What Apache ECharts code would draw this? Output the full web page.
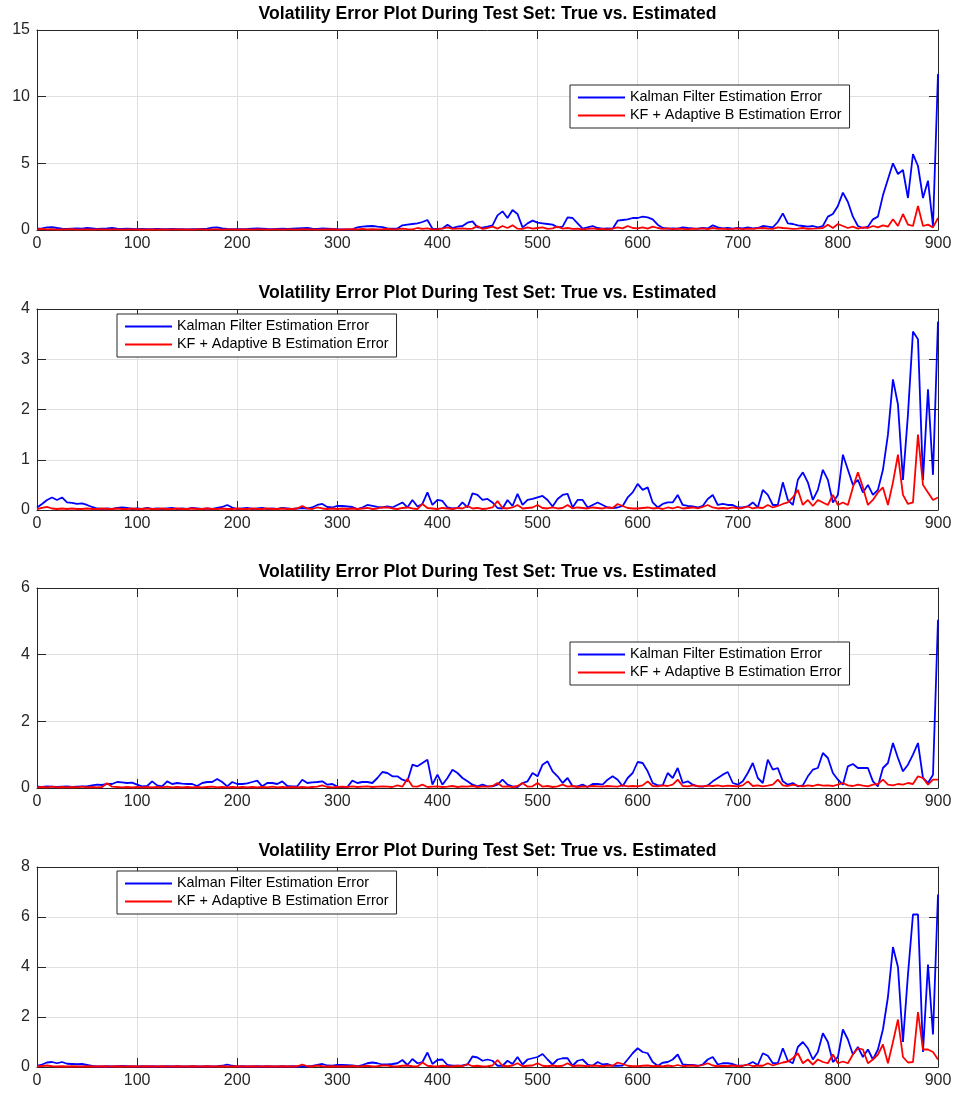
<!DOCTYPE html>
<html>
<head>
<meta charset="utf-8">
<script src="https://cdn.jsdelivr.net/npm/echarts@6/dist/echarts.min.js"></script>
<style>
html,body{margin:0;padding:0;background:#fff;}
#chart{width:956px;height:1094px;}
</style>
</head>
<body>
<div id="chart"></div>
<script>
// x positions: one sample every STEP time steps from 0 to 900
const STEP = 5;
const titleText = 'Volatility Error Plot During Test Set: True vs. Estimated';
const seriesNames = ['Kalman Filter Estimation Error', 'KF + Adaptive B Estimation Error'];
const xTicks = [0, 100, 200, 300, 400, 500, 600, 700, 800, 900];
const yMaxes = [15, 4, 6, 8];
const yIntervals = [5, 1, 2, 2];

// Panel 1
const b1 = [
0.10,0.12,0.20,0.22,0.15,0.10,0.08,0.10,0.12,0.10,0.15,0.12,0.08,0.10,0.12,0.16,0.10,0.08,0.10,0.08,
0.06,0.08,0.07,0.06,0.08,0.07,0.06,0.08,0.07,0.06,0.05,0.07,0.06,0.08,0.10,0.18,0.20,0.12,0.08,0.07,
0.06,0.07,0.08,0.10,0.12,0.10,0.08,0.07,0.09,0.10,0.08,0.10,0.12,0.14,0.15,0.10,0.08,0.12,0.10,0.08,
0.06,0.05,0.05,0.05,0.20,0.25,0.28,0.30,0.25,0.22,0.12,0.10,0.12,0.35,0.40,0.45,0.50,0.60,0.75,0.10,
0.08,0.12,0.40,0.15,0.25,0.30,0.55,0.65,0.20,0.18,0.25,0.35,1.10,1.40,0.90,1.50,1.20,0.20,0.50,0.70,
0.55,0.50,0.45,0.40,0.20,0.25,0.95,0.90,0.50,0.10,0.20,0.30,0.15,0.10,0.12,0.10,0.70,0.75,0.80,0.90,
0.90,1.00,0.95,0.80,0.40,0.15,0.10,0.12,0.10,0.20,0.15,0.12,0.10,0.15,0.12,0.35,0.20,0.12,0.15,0.10,
0.15,0.12,0.20,0.12,0.15,0.30,0.25,0.20,0.60,1.25,0.50,0.45,0.35,0.30,0.25,0.30,0.20,0.30,1.00,1.20,
1.80,2.80,2.10,1.00,0.30,0.15,0.25,0.80,1.00,2.60,3.80,5.00,4.20,4.50,2.40,5.70,4.80,2.40,3.70,0.30,
11.7];
const r1 = [
0.05,0.08,0.04,0.06,0.03,0.05,0.04,0.06,0.03,0.05,0.04,0.03,0.05,0.04,0.03,0.05,0.04,0.03,0.05,0.04,
0.03,0.04,0.03,0.05,0.03,0.04,0.03,0.05,0.04,0.03,0.04,0.03,0.05,0.04,0.03,0.05,0.04,0.03,0.05,0.04,
0.03,0.04,0.05,0.03,0.04,0.05,0.03,0.04,0.05,0.03,0.04,0.05,0.03,0.06,0.04,0.05,0.03,0.05,0.04,0.06,
0.03,0.05,0.04,0.06,0.05,0.08,0.05,0.07,0.05,0.06,0.08,0.05,0.06,0.10,0.07,0.05,0.15,0.08,0.12,0.05,
0.06,0.10,0.20,0.08,0.10,0.12,0.08,0.10,0.30,0.08,0.15,0.25,0.10,0.30,0.15,0.35,0.10,0.08,0.20,0.10,
0.15,0.20,0.08,0.12,0.25,0.10,0.15,0.08,0.10,0.05,0.08,0.12,0.06,0.08,0.05,0.10,0.20,0.12,0.30,0.15,
0.12,0.20,0.10,0.25,0.15,0.08,0.12,0.06,0.10,0.08,0.05,0.10,0.08,0.12,0.06,0.15,0.08,0.10,0.06,0.08,
0.12,0.06,0.10,0.08,0.12,0.15,0.10,0.08,0.20,0.15,0.12,0.08,0.10,0.15,0.08,0.10,0.12,0.15,0.40,0.15,
0.45,0.30,0.15,0.25,0.10,0.20,0.15,0.30,0.20,0.35,0.25,0.80,0.30,1.20,0.40,0.30,1.80,0.30,0.40,0.20,
0.9];

// Panel 2
const b2 = [
0.05,0.12,0.20,0.25,0.20,0.25,0.15,0.14,0.12,0.13,0.10,0.06,0.03,0.02,0.03,0.02,0.04,0.05,0.04,0.02,
0.03,0.02,0.04,0.02,0.03,0.02,0.03,0.04,0.02,0.03,0.02,0.04,0.03,0.02,0.03,0.02,0.04,0.06,0.10,0.05,
0.02,0.03,0.04,0.02,0.03,0.04,0.02,0.03,0.02,0.04,0.03,0.02,0.03,0.04,0.03,0.05,0.10,0.12,0.06,0.05,
0.08,0.08,0.07,0.06,0.02,0.05,0.10,0.08,0.06,0.05,0.07,0.05,0.10,0.15,0.05,0.20,0.07,0.12,0.35,0.10,
0.20,0.18,0.05,0.03,0.04,0.15,0.05,0.33,0.30,0.20,0.22,0.15,0.04,0.03,0.20,0.08,0.32,0.10,0.20,0.22,
0.25,0.28,0.20,0.07,0.22,0.30,0.32,0.05,0.20,0.20,0.05,0.10,0.15,0.10,0.05,0.04,0.05,0.08,0.25,0.35,
0.52,0.40,0.45,0.15,0.05,0.12,0.15,0.15,0.30,0.10,0.08,0.07,0.05,0.08,0.22,0.30,0.10,0.12,0.10,0.10,
0.05,0.05,0.07,0.15,0.05,0.40,0.30,0.10,0.10,0.55,0.20,0.10,0.60,0.75,0.55,0.20,0.40,0.80,0.60,0.15,
0.30,1.10,0.80,0.50,0.60,0.35,0.50,0.30,0.40,0.80,1.50,2.60,2.10,0.60,1.90,3.55,3.40,0.60,2.40,0.70,
3.75];
const r2 = [
0.02,0.04,0.06,0.03,0.02,0.03,0.02,0.03,0.02,0.02,0.03,0.02,0.02,0.03,0.02,0.02,0.03,0.02,0.02,0.03,
0.02,0.02,0.03,0.02,0.02,0.03,0.02,0.02,0.03,0.02,0.02,0.03,0.02,0.02,0.03,0.02,0.02,0.03,0.02,0.02,
0.03,0.02,0.02,0.03,0.02,0.02,0.03,0.02,0.02,0.03,0.02,0.02,0.03,0.08,0.03,0.02,0.05,0.03,0.02,0.03,
0.02,0.03,0.02,0.03,0.02,0.03,0.04,0.02,0.03,0.05,0.05,0.03,0.02,0.04,0.05,0.03,0.02,0.12,0.04,0.03,
0.02,0.04,0.03,0.02,0.04,0.03,0.08,0.03,0.04,0.02,0.03,0.05,0.18,0.04,0.03,0.05,0.10,0.03,0.04,0.05,
0.10,0.04,0.03,0.05,0.03,0.04,0.10,0.03,0.05,0.04,0.03,0.05,0.04,0.03,0.05,0.04,0.12,0.08,0.04,0.03,
0.03,0.04,0.05,0.03,0.04,0.02,0.05,0.03,0.06,0.03,0.04,0.05,0.03,0.06,0.10,0.05,0.03,0.04,0.03,0.05,
0.03,0.04,0.07,0.03,0.05,0.04,0.10,0.05,0.08,0.12,0.15,0.25,0.40,0.10,0.20,0.08,0.20,0.15,0.10,0.30,
0.10,0.15,0.10,0.45,0.75,0.45,0.10,0.20,0.35,0.45,0.10,0.55,1.10,0.30,0.12,0.15,1.50,0.50,0.35,0.20,
0.25];

// Panel 3
const b3 = [
0.04,0.03,0.05,0.04,0.03,0.04,0.05,0.03,0.04,0.05,0.05,0.08,0.10,0.09,0.12,0.12,0.18,0.17,0.15,0.16,
0.10,0.05,0.06,0.20,0.08,0.05,0.20,0.12,0.15,0.13,0.12,0.12,0.06,0.15,0.18,0.18,0.27,0.18,0.05,0.18,
0.12,0.12,0.14,0.18,0.22,0.05,0.15,0.15,0.12,0.20,0.06,0.05,0.05,0.25,0.15,0.17,0.18,0.20,0.10,0.12,
0.04,0.03,0.03,0.22,0.15,0.18,0.18,0.15,0.30,0.48,0.45,0.35,0.35,0.25,0.20,0.70,0.65,0.75,0.85,0.10,
0.40,0.10,0.30,0.55,0.45,0.30,0.20,0.10,0.05,0.10,0.05,0.05,0.10,0.25,0.10,0.05,0.03,0.15,0.20,0.45,
0.35,0.70,0.80,0.50,0.35,0.15,0.30,0.05,0.05,0.10,0.03,0.12,0.12,0.10,0.25,0.35,0.25,0.05,0.30,0.45,
0.78,0.75,0.50,0.15,0.08,0.08,0.45,0.30,0.60,0.15,0.20,0.10,0.05,0.04,0.08,0.20,0.30,0.40,0.48,0.15,
0.10,0.20,0.45,0.75,0.30,0.15,0.85,0.55,0.60,0.20,0.10,0.15,0.05,0.08,0.35,0.55,0.60,1.05,0.90,0.45,
0.25,0.10,0.65,0.72,0.60,0.60,0.60,0.20,0.05,0.60,0.75,1.35,0.90,0.50,0.70,1.00,1.35,0.30,0.15,0.40,
5.05];
const r3 = [
0.02,0.03,0.02,0.04,0.02,0.03,0.02,0.03,0.02,0.04,0.02,0.03,0.02,0.03,0.14,0.04,0.03,0.02,0.03,0.02,
0.03,0.02,0.03,0.02,0.03,0.02,0.04,0.02,0.03,0.02,0.03,0.02,0.03,0.02,0.03,0.04,0.02,0.03,0.02,0.03,
0.02,0.03,0.02,0.03,0.02,0.03,0.02,0.04,0.02,0.03,0.02,0.03,0.02,0.03,0.02,0.03,0.04,0.08,0.03,0.02,
0.03,0.04,0.03,0.05,0.03,0.04,0.05,0.03,0.04,0.05,0.04,0.03,0.08,0.04,0.28,0.05,0.04,0.10,0.03,0.04,
0.05,0.03,0.04,0.06,0.03,0.05,0.04,0.06,0.03,0.05,0.04,0.06,0.15,0.04,0.05,0.03,0.06,0.15,0.04,0.05,
0.15,0.04,0.06,0.03,0.05,0.10,0.04,0.06,0.03,0.05,0.04,0.06,0.05,0.04,0.06,0.05,0.04,0.08,0.05,0.06,
0.05,0.08,0.20,0.06,0.05,0.08,0.06,0.10,0.25,0.06,0.05,0.08,0.06,0.05,0.07,0.06,0.08,0.05,0.07,0.06,
0.05,0.08,0.20,0.06,0.08,0.05,0.07,0.10,0.25,0.08,0.06,0.10,0.07,0.05,0.08,0.06,0.10,0.07,0.08,0.06,
0.10,0.15,0.08,0.06,0.10,0.07,0.05,0.10,0.12,0.25,0.10,0.08,0.12,0.10,0.15,0.12,0.35,0.30,0.10,0.25,
0.25];

// Panel 4
const b4 = [
0.05,0.10,0.18,0.20,0.15,0.20,0.13,0.12,0.11,0.12,0.08,0.04,0.02,0.02,0.03,0.02,0.03,0.04,0.03,0.02,
0.02,0.03,0.02,0.03,0.02,0.02,0.03,0.02,0.03,0.02,0.02,0.03,0.02,0.02,0.03,0.02,0.03,0.05,0.10,0.05,
0.02,0.03,0.02,0.02,0.03,0.02,0.03,0.02,0.02,0.03,0.02,0.03,0.02,0.03,0.02,0.04,0.08,0.12,0.06,0.05,
0.08,0.08,0.07,0.06,0.03,0.08,0.15,0.18,0.15,0.10,0.10,0.12,0.15,0.28,0.08,0.32,0.15,0.20,0.58,0.12,
0.28,0.30,0.08,0.05,0.05,0.06,0.10,0.42,0.38,0.25,0.30,0.25,0.05,0.05,0.25,0.12,0.40,0.10,0.30,0.35,
0.40,0.52,0.30,0.10,0.30,0.35,0.35,0.05,0.25,0.30,0.10,0.05,0.20,0.10,0.12,0.05,0.05,0.06,0.30,0.55,
0.75,0.60,0.55,0.20,0.05,0.17,0.20,0.30,0.50,0.10,0.08,0.08,0.05,0.10,0.30,0.40,0.10,0.15,0.15,0.12,
0.05,0.05,0.10,0.20,0.08,0.55,0.45,0.15,0.15,0.75,0.25,0.15,0.80,1.00,0.75,0.30,0.60,1.35,1.00,0.20,
0.40,1.50,1.10,0.50,0.80,0.40,0.70,0.30,0.70,1.50,2.80,4.80,4.00,1.00,3.70,6.10,6.10,0.60,4.10,1.30,
6.9];
const r4 = [
0.02,0.04,0.06,0.03,0.02,0.03,0.02,0.03,0.02,0.02,0.03,0.02,0.02,0.03,0.02,0.02,0.03,0.02,0.02,0.03,
0.02,0.02,0.03,0.02,0.02,0.03,0.02,0.02,0.03,0.02,0.02,0.03,0.02,0.02,0.03,0.02,0.02,0.03,0.02,0.02,
0.03,0.02,0.02,0.03,0.02,0.02,0.03,0.02,0.02,0.03,0.02,0.02,0.03,0.10,0.03,0.02,0.06,0.03,0.02,0.03,
0.02,0.03,0.02,0.04,0.02,0.03,0.05,0.02,0.03,0.06,0.06,0.03,0.02,0.05,0.06,0.03,0.02,0.18,0.05,0.03,
0.02,0.05,0.03,0.02,0.05,0.03,0.12,0.03,0.05,0.02,0.03,0.06,0.28,0.05,0.03,0.06,0.15,0.03,0.05,0.06,
0.15,0.05,0.03,0.06,0.03,0.05,0.15,0.03,0.06,0.05,0.03,0.06,0.05,0.03,0.06,0.05,0.18,0.12,0.05,0.03,
0.03,0.05,0.06,0.03,0.05,0.02,0.06,0.03,0.08,0.03,0.05,0.06,0.03,0.08,0.15,0.06,0.03,0.05,0.03,0.06,
0.03,0.05,0.10,0.03,0.06,0.05,0.15,0.06,0.12,0.18,0.22,0.35,0.55,0.15,0.30,0.10,0.30,0.20,0.15,0.50,
0.15,0.22,0.15,0.50,0.75,0.70,0.15,0.30,0.50,0.90,0.15,1.00,1.90,0.40,0.18,0.20,2.20,0.70,0.70,0.60,
0.3];

const blueSets = [b1, b2, b3, b4];
const redSets = [r1, r2, r3, r4];

const FONT = "'Liberation Sans', Arial, Helvetica, sans-serif";
const AX = '#262626';
const GRIDC = '#dfdfdf';
const gridTops = [30, 309, 588, 867];
const gridHeights = [200, 201, 200, 200];
const legendPos = [[570, 85], [117, 314], [570, 642], [117, 871]];

const toPairs = arr => arr.map((v, i) => [i * STEP, v]);

const grids = [], xAxes = [], yAxes = [], series = [], legends = [], graphics = [];
for (let g = 0; g < 4; g++) {
  grids.push({left: 37, top: gridTops[g], width: 901, height: gridHeights[g], containLabel: false});
  xAxes.push({
    type: 'value', gridIndex: g, position: 'bottom', min: xTicks[0], max: xTicks[xTicks.length - 1], interval: 100,
    axisLine: {show: true, onZero: false, lineStyle: {color: AX, width: 1}},
    axisTick: {show: true, inside: true, length: 9, lineStyle: {color: AX}},
    axisLabel: {show: true, color: AX, fontSize: 16, margin: 6, fontFamily: FONT},
    splitLine: {show: true, lineStyle: {color: GRIDC, width: 1}}
  });
  xAxes.push({
    type: 'value', gridIndex: g, position: 'top', min: 0, max: 900, interval: 100,
    axisLine: {show: true, onZero: false, lineStyle: {color: AX, width: 1}},
    axisTick: {show: true, inside: true, length: 9, lineStyle: {color: AX}},
    axisLabel: {show: false}, splitLine: {show: false}
  });
  yAxes.push({
    type: 'value', gridIndex: g, position: 'left', min: 0, max: yMaxes[g], interval: yIntervals[g],
    axisLine: {show: true, onZero: false, lineStyle: {color: AX, width: 1}},
    axisTick: {show: true, inside: true, length: 9, lineStyle: {color: AX}},
    axisLabel: {show: true, color: AX, fontSize: 16, margin: 7, fontFamily: FONT},
    splitLine: {show: true, lineStyle: {color: GRIDC, width: 1}}
  });
  yAxes.push({
    type: 'value', gridIndex: g, position: 'right', min: 0, max: yMaxes[g], interval: yIntervals[g],
    axisLine: {show: true, onZero: false, lineStyle: {color: AX, width: 1}},
    axisTick: {show: true, inside: true, length: 9, lineStyle: {color: AX}},
    axisLabel: {show: false}, splitLine: {show: false}
  });
  series.push({
    name: seriesNames[0], type: 'line', xAxisIndex: 2 * g, yAxisIndex: 2 * g,
    data: toPairs(blueSets[g]), symbol: 'none', showSymbol: false, animation: false,
    lineStyle: {color: '#0000ff', width: 1.8}, itemStyle: {color: '#0000ff'}, z: 2
  });
  series.push({
    name: seriesNames[1], type: 'line', xAxisIndex: 2 * g, yAxisIndex: 2 * g,
    data: toPairs(redSets[g]), symbol: 'none', showSymbol: false, animation: false,
    lineStyle: {color: '#ff0000', width: 1.8}, itemStyle: {color: '#ff0000'}, z: 3
  });
  legends.push({
    data: seriesNames.map(n => ({name: n, icon: 'rect'})),
    orient: 'vertical', left: legendPos[g][0], top: legendPos[g][1],
    padding: [5, 8, 5, 8], itemGap: 3, itemWidth: 47, itemHeight: 2, itemTextGap: 7,
    backgroundColor: '#ffffff', borderColor: AX, borderWidth: 1, borderRadius: 0,
    textStyle: {color: '#000', fontSize: 14.4, fontFamily: FONT, lineHeight: 15},
    selectedMode: false, z: 10
  });
  graphics.push({
    type: 'text', x: 487.5, y: gridTops[g] - 16, z: 20,
    style: {text: titleText, fill: '#000', font: 'bold 17.6px ' + FONT, textAlign: 'center', textVerticalAlign: 'middle'}
  });
}

const chart = echarts.init(document.getElementById('chart'), null, {renderer: 'canvas'});
chart.setOption({
  backgroundColor: '#ffffff',
  animation: false,
  grid: grids, xAxis: xAxes, yAxis: yAxes, series: series, legend: legends,
  graphic: graphics
});
</script>
</body>
</html>
